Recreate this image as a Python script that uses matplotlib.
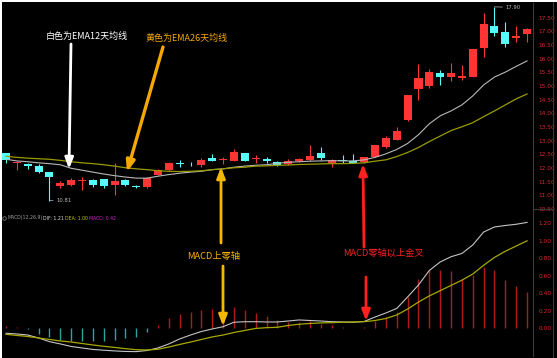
import numpy as np
import matplotlib.pyplot as plt

# daily candles
opens = [12.54, 12.18, 12.15, 12.08, 11.84, 11.35, 11.39, 11.52, 11.56, 11.59,
         11.37, 11.57, 11.33, 11.30, 11.75, 11.93, 12.16, 12.15, 12.11, 12.35,
         12.28, 12.27, 12.56, 12.32, 12.33, 12.23, 12.14, 12.26, 12.29, 12.54,
         12.20, 12.27, 12.26, 12.23, 12.42, 12.78, 13.04, 13.74, 14.89, 15.01,
         15.47, 15.32, 15.30, 15.32, 16.38, 17.21, 16.98, 16.76, 16.91]
highs = [12.56, 12.26, 12.17, 12.14, 11.87, 11.51, 11.63, 11.66, 11.60, 11.60,
         12.17, 11.60, 11.38, 11.66, 11.96, 12.23, 12.28, 12.22, 12.36, 12.50,
         12.42, 12.69, 12.56, 12.47, 12.39, 12.24, 12.33, 12.37, 12.84, 12.78,
         12.33, 12.47, 12.50, 12.41, 12.86, 13.18, 13.50, 14.68, 15.82, 15.62,
         15.58, 15.86, 15.76, 16.37, 17.67, 17.90, 17.34, 17.18, 17.13]
lows = [12.20, 11.93, 11.97, 11.81, 10.81, 11.27, 11.33, 11.21, 11.29, 11.27,
        11.03, 11.33, 11.27, 11.27, 11.73, 11.90, 12.02, 12.08, 12.04, 12.24,
        12.15, 12.24, 12.27, 12.17, 12.20, 12.08, 12.11, 12.22, 12.26, 12.29,
        12.05, 12.17, 12.17, 12.17, 12.40, 12.75, 13.02, 13.73, 14.50, 14.92,
        15.05, 15.19, 15.22, 15.32, 16.08, 16.82, 16.42, 16.61, 16.61]
closes = [12.30, 12.22, 12.08, 11.87, 11.66, 11.45, 11.57, 11.55, 11.37, 11.33,
          11.53, 11.39, 11.32, 11.63, 11.93, 12.20, 12.15, 12.13, 12.29, 12.27,
          12.33, 12.57, 12.27, 12.33, 12.24, 12.11, 12.26, 12.33, 12.45, 12.36,
          12.29, 12.26, 12.17, 12.39, 12.84, 13.10, 13.34, 14.67, 15.28, 15.53,
          15.32, 15.47, 15.35, 16.34, 17.28, 16.95, 16.55, 16.85, 17.09]

ema12 = [12.32, 12.26, 12.23, 12.19, 12.16, 12.12, 11.99, 11.92, 11.85, 11.78,
         11.72, 11.67, 11.63, 11.63, 11.70, 11.76, 11.81, 11.85, 11.88, 11.94,
         11.97, 12.03, 12.07, 12.10, 12.12, 12.17, 12.21, 12.23, 12.25, 12.26,
         12.27, 12.26, 12.26, 12.30, 12.39, 12.52, 12.68, 12.90, 13.22, 13.62,
         13.91, 14.09, 14.31, 14.64, 15.04, 15.33, 15.51, 15.72, 15.92]
ema26 = [12.43, 12.39, 12.36, 12.34, 12.32, 12.28, 12.23, 12.19, 12.16, 12.12,
         12.07, 12.01, 11.97, 11.94, 11.90, 11.88, 11.87, 11.88, 11.90, 11.94,
         11.97, 12.01, 12.03, 12.07, 12.08, 12.10, 12.11, 12.13, 12.14, 12.15,
         12.16, 12.16, 12.17, 12.19, 12.25, 12.30, 12.42, 12.57, 12.75, 12.97,
         13.17, 13.37, 13.51, 13.66, 13.88, 14.09, 14.31, 14.53, 14.71]

dif = [-0.057, -0.065, -0.077, -0.111, -0.153, -0.179, -0.208, -0.225, -0.242, -0.251,
       -0.259, -0.265, -0.267, -0.254, -0.225, -0.179, -0.122, -0.077, -0.037, -0.008,
       0.018, 0.069, 0.075, 0.075, 0.072, 0.072, 0.083, 0.095, 0.089, 0.083,
       0.075, 0.072, 0.069, 0.078, 0.129, 0.175, 0.227, 0.358, 0.495, 0.661,
       0.758, 0.818, 0.855, 0.952, 1.100, 1.158, 1.175, 1.189, 1.210]
dea = [-0.069, -0.082, -0.094, -0.111, -0.128, -0.145, -0.157, -0.174, -0.191, -0.206,
       -0.219, -0.233, -0.245, -0.248, -0.240, -0.214, -0.185, -0.157, -0.128, -0.099,
       -0.077, -0.048, -0.025, -0.002, 0.007, 0.011, 0.032, 0.046, 0.055, 0.061,
       0.064, 0.069, 0.072, 0.075, 0.089, 0.112, 0.152, 0.220, 0.300, 0.370,
       0.430, 0.490, 0.550, 0.620, 0.720, 0.810, 0.880, 0.940, 1.000]
macd = [0.03, 0.01, -0.01, -0.06, -0.10, -0.13, -0.15, -0.15, -0.15, -0.15,
        -0.13, -0.11, -0.10, -0.04, 0.04, 0.12, 0.16, 0.19, 0.21, 0.22,
        0.20, 0.24, 0.21, 0.17, 0.14, 0.095, 0.075, 0.07, 0.08, 0.05,
        0.04, 0.015, 0.005, 0.01, 0.08, 0.13, 0.19, 0.36, 0.56, 0.67,
        0.67, 0.65, 0.56, 0.61, 0.70, 0.67, 0.55, 0.48, 0.42]

price_ticks = [10.5, 11.0, 11.5, 12.0, 12.5, 13.0, 13.5, 14.0, 14.5, 15.0, 15.5, 16.0, 16.5, 17.0, 17.5]
macd_ticks = [0.0, 0.2, 0.4, 0.6, 0.8, 1.0, 1.2]

UP = '#ff3434'
DOWN = '#54fcfc'
W, H = 557, 358

fig = plt.figure(figsize=(W / 100, H / 100), dpi=100, facecolor='black')


def px_axes(x0, y0, x1, y1):
    # axes placed by pixel box (top-left origin)
    a = fig.add_axes([x0 / W, 1 - y1 / H, (x1 - x0) / W, (y1 - y0) / H])
    a.set_facecolor('black')
    for s in ['top', 'left', 'bottom']:
        a.spines[s].set_visible(False)
    a.spines['right'].set_color('#3a3a3a')
    a.spines['right'].set_linewidth(0.8)
    a.set_xticks([])
    a.yaxis.tick_right()
    a.tick_params(axis='y', length=0, pad=4, labelcolor='#d42a2a', labelsize=4.2)
    a.set_xlim(-0.37, 48.55)
    return a


x = np.arange(len(opens))
o = np.array(opens)
c = np.array(closes)
up = c >= o
cols = np.where(up, UP, DOWN)

# ---- price panel
ax = px_axes(2, 3, 533, 209)
ax.set_ylim(10.58, 18.04)
ax.vlines(x, lows, highs, colors=cols, lw=0.8, zorder=2)
body = np.maximum(np.abs(c - o), 0.035)
ax.bar(x, body, bottom=np.minimum(o, c), width=0.74, color=cols, zorder=3)
ax.plot(x, ema12, color='#b8b8b8', lw=0.8, zorder=4)
ax.plot(x, ema26, color='#9a9a00', lw=0.9, zorder=4)
ax.set_yticks(price_ticks)
ax.set_yticklabels([f'{v:.2f}' for v in price_ticks])

ih = int(np.argmax(highs))
il = int(np.argmin(lows))
ax.annotate(f'{highs[ih]:.2f}', xy=(ih, highs[ih]), xytext=(ih + 1.0, highs[ih] - 0.02),
            color='#bdbdbd', fontsize=3.8, va='center',
            arrowprops=dict(arrowstyle='-', color='#bdbdbd', lw=0.5, shrinkA=0, shrinkB=0))
ax.annotate(f'{lows[il]:.2f}', xy=(il, lows[il]), xytext=(il + 0.6, lows[il]),
            color='#bdbdbd', fontsize=3.8, va='center',
            arrowprops=dict(arrowstyle='-', color='#bdbdbd', lw=0.5, shrinkA=0, shrinkB=0))

# ---- MACD panel
ax2 = px_axes(2, 210, 533, 356)
ax2.set_ylim(-0.317, 1.352)
m = np.array(macd)
ax2.vlines(x, 0, m, colors=np.where(m >= 0, '#b01a1a', '#2aa5a5'), lw=1.0)
ax2.plot(x, dif, color='#c4c4c4', lw=0.8)
ax2.plot(x, dea, color='#a8a800', lw=0.9)
ax2.set_yticks(macd_ticks)
ax2.set_yticklabels([f'{v:.2f}' for v in macd_ticks])

# ---- overlay in pixel coords for notes
ov = fig.add_axes([0, 0, 1, 1])
ov.set_xlim(0, W)
ov.set_ylim(H, 0)
ov.axis('off')
ov.patch.set_alpha(0)

ov.fill_between([0, W], 0, 2, color='white', lw=0)
ov.fill_between([0, 2], 0, H, color='white', lw=0)
ov.plot([553, 553], [2, H], color='#3a3a3a', lw=0.8)
ov.plot([533, 553], [209, 209], color='#3a3a3a', lw=0.8)

# MACD legend line
ov.plot(4, 218, 'o', ms=2.5, mfc='none', mec='#909090', mew=0.5)
ov.text(7, 218, 'MACD(12,26,9)', color='#a0a0a0', fontsize=3.3, va='center')
ov.text(43, 218, f'DIF: {dif[-1]:.2f}', color='#e0e0e0', fontsize=3.3, va='center')
ov.text(65, 218, f'DEA: {dea[-1]:.2f}', color='#c8c800', fontsize=3.3, va='center')
ov.text(89, 218, f'MACD: {macd[-1]:.2f}', color='#d020d0', fontsize=3.3, va='center')

cjk = ['Noto Sans CJK SC', 'DejaVu Sans']


def arrow(x0, y0, x1, y1, color, lw=2.0):
    ov.annotate('', xy=(x1, y1), xytext=(x0, y0),
                arrowprops=dict(arrowstyle='-|>,head_width=0.25,head_length=0.65',
                                color=color, lw=lw, mutation_scale=10,
                                shrinkA=0, shrinkB=0))


ov.text(87, 36, '白色为EMA12天均线', color='white', fontsize=6.5,
        family=cjk, ha='center', va='center')
arrow(71, 44, 69, 169, 'white', 2.0)

ov.text(187, 38, '黄色为EMA26天均线', color='#f5a800', fontsize=6.5,
        family=cjk, ha='center', va='center')
arrow(163, 47, 127, 172, '#f5a800', 2.4)

arrow(221, 243, 221, 167, '#f5b800', 2.0)
ov.text(214, 256, 'MACD上零轴', color='#f5b000', fontsize=6.7,
        family=cjk, ha='center', va='center')
arrow(223, 266, 223, 326, '#f5b800', 2.0)

arrow(364, 247, 363, 164, '#ff2020', 2.0)
ov.text(384, 253, 'MACD零轴以上金叉', color='#f02020', fontsize=6.7,
        family=cjk, ha='center', va='center')
arrow(366, 277, 366, 321, '#ff2020', 2.0)

plt.savefig('out.png', dpi=100, facecolor='black')
